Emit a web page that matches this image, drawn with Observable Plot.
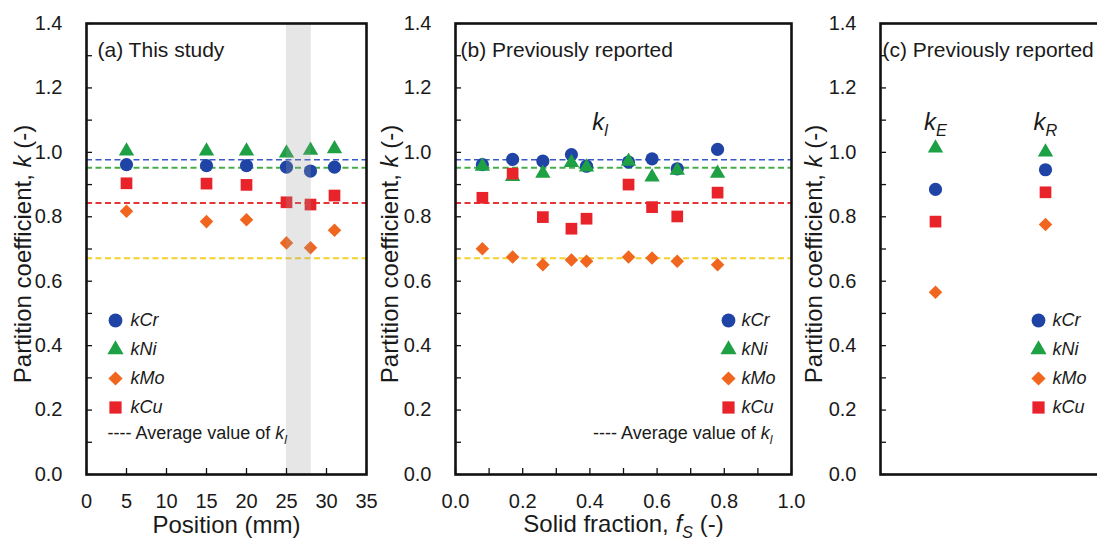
<!DOCTYPE html>
<html><head><meta charset="utf-8">
<script src="https://cdn.jsdelivr.net/npm/d3@7"></script>
<script src="https://cdn.jsdelivr.net/npm/@observablehq/plot@0.6"></script>
<style>
html,body{margin:0;padding:0;background:#fff;overflow:hidden;}
#wrap{position:relative;width:1097px;height:541px;overflow:hidden;}
#wrap svg{position:absolute;top:0;overflow:visible;}
</style></head><body><div id="wrap"></div>
<script>
// ---------------- data ----------------
const elements = ["kCr", "kNi", "kMo", "kCu"];

// (a) This study
const positionA = [5, 15, 20, 25, 28, 31];
const kCrA = [0.962, 0.959, 0.959, 0.954, 0.942, 0.954];
const kNiA = [1.004, 1.004, 1.004, 0.998, 1.006, 1.011];
const kMoA = [0.817, 0.785, 0.791, 0.719, 0.704, 0.758];
const kCuA = [0.904, 0.903, 0.899, 0.845, 0.838, 0.866];
const shadedPosition = [25, 28.1];

// (b) Previously reported, k_l vs solid fraction
const solidFractionB = [0.08, 0.17, 0.26, 0.345, 0.39, 0.515, 0.585, 0.66, 0.78];
const kCrB = [0.962, 0.978, 0.973, 0.993, 0.957, 0.970, 0.980, 0.949, 1.009];
const kNiB = [0.957, 0.925, 0.935, 0.968, 0.954, 0.972, 0.923, 0.944, 0.935];
const kMoB = [0.701, 0.675, 0.651, 0.666, 0.662, 0.675, 0.672, 0.662, 0.651];
const kCuB = [0.859, 0.934, 0.799, 0.763, 0.794, 0.900, 0.830, 0.801, 0.875];

// (c) Previously reported, k_E and k_R
const methodsC = ["kE", "kR"];
const methodLabelsC = ["|i:k||s:E|", "|i:k||s:R|"];
const kCrC = [0.885, 0.946];
const kNiC = [1.013, 1.001];
const kMoC = [0.566, 0.776];
const kCuC = [0.785, 0.876];

// average value of k_l (dashed lines)
const averageElements = ["kCr", "kNi", "kCu", "kMo"];
const averageValues = [0.977, 0.952, 0.843, 0.671];

// ticks
const yTicks = [0, 0.2, 0.4, 0.6, 0.8, 1.0, 1.2, 1.4];
const yMinorTicks = [0, 0.1, 0.2, 0.3, 0.4, 0.5, 0.6, 0.7, 0.8, 0.9, 1.0, 1.1, 1.2, 1.3, 1.4];
const xTicksA = [0, 5, 10, 15, 20, 25, 30, 35];
const xTicksB = [0, 0.2, 0.4, 0.6, 0.8, 1.0];
const xMinorTicksB = [0, 0.1, 0.2, 0.3, 0.4, 0.5, 0.6, 0.7, 0.8, 0.9, 1.0];

// texts
const titleA = "(a) This study";
const titleB = "(b) Previously reported";
const titleC = "(c) Previously reported";
const yTitle = "Partition coefficient, |i:k| (-)";
const xTitleA = "Position (mm)";
const xTitleB = "Solid fraction, |i:f||s:S| (-)";
const klLabel = "|i:k||s:l|";
const averageLegend = "---- Average value of |i:k||s:l|";

// ---------------- styles ----------------
const FONT = "'Liberation Sans', Arial, Helvetica, sans-serif";
const TEXT = "#1a1a1a";
const markerStyle = {
  kCr: {symbol: "circle", fill: "#1f44a6", r: 6.6},
  kNi: {symbol: "triangle", fill: "#1ea045", r: 5.7},
  kMo: {symbol: "diamond2", fill: "#f0661f", r: 6.1},
  kCu: {symbol: "square", fill: "#e8232a", r: 6.6}
};
const lineStyle = {
  kCr: {stroke: "#3a57c8", strokeWidth: 1.6},
  kNi: {stroke: "#45ae48", strokeWidth: 2},
  kCu: {stroke: "#e63535", strokeWidth: 2},
  kMo: {stroke: "#f3d02a", strokeWidth: 2}
};

// ---------------- tables ----------------
function table(xs, series) {
  const out = [];
  elements.forEach((e, j) => xs.forEach((x, i) => out.push({element: e, x, k: series[j][i]})));
  return out;
}
const tableA = table(positionA, [kCrA, kNiA, kMoA, kCuA]);
const tableB = table(solidFractionB, [kCrB, kNiB, kMoB, kCuB]);
const tableC = table(methodsC, [kCrC, kNiC, kMoC, kCuC]);
const averages = averageElements.map((e, i) => ({element: e, value: averageValues[i]}));

// ---------------- shared marks ----------------
function seriesDots(tab) {
  return elements.map(e => Plot.dot(tab.filter(d => d.element === e), {
    x: "x", y: "k", symbol: markerStyle[e].symbol, r: markerStyle[e].r, fill: markerStyle[e].fill
  }));
}
function averageLines() {
  return averages.map(a => Plot.ruleY([a], {y: "value", stroke: lineStyle[a.element].stroke,
    strokeWidth: lineStyle[a.element].strokeWidth, strokeDasharray: "6,3.5"}));
}
function yAxes() {
  return [
    Plot.axisY({ticks: yMinorTicks, tickSize: 6, dx: 6, tickFormat: () => "", label: null, stroke: "#111", strokeWidth: 1.3}),
    Plot.axisY({ticks: yTicks, tickSize: 0, tickPadding: 24, tickFormat: d3.format(".1f"), label: null,
      fontSize: 20, fill: TEXT})
  ];
}
function legend(anchor, markerDx, textDx) {
  const marks = [];
  elements.forEach((e, i) => {
    const dy = -154 + 29 * i;
    marks.push(Plot.dot([e], {frameAnchor: anchor, dx: markerDx, dy, symbol: markerStyle[e].symbol,
      r: markerStyle[e].r + 0.3, fill: markerStyle[e].fill}));
    marks.push(Plot.text([e], {text: d => d, frameAnchor: anchor, dx: textDx, dy, textAnchor: "start",
      lineAnchor: "middle", fontSize: 18, fontStyle: "italic", fill: TEXT}));
  });
  return marks;
}
function yTitleMark(dx) {
  return Plot.text([yTitle], {text: d => d, frameAnchor: "left", dx, dy: 5, rotate: -90,
    textAnchor: "middle", lineAnchor: "middle", fontSize: 24, fill: TEXT});
}
function panelTitle(t, dx) {
  return Plot.text([t], {text: d => d, frameAnchor: "top-left", dx, dy: 27, textAnchor: "start",
    lineAnchor: "middle", fontSize: 21, fill: TEXT});
}
const frame = () => Plot.frame({stroke: "#111", strokeWidth: 2.6});

// ---------------- panel (a) ----------------
const plotA = Plot.plot({
  width: 370, height: 541, marginLeft: 86, marginRight: 4, marginTop: 23, marginBottom: 67,
  style: {fontFamily: FONT, background: "transparent"},
  x: {domain: [0, 35]}, y: {domain: [0, 1.4]},
  marks: [
    ...averageLines(),
    ...seriesDots(tableA),
    Plot.rect([shadedPosition], {x1: d => d[0], x2: d => d[1], fill: "#9a9a9a", fillOpacity: 0.25}),
    ...yAxes(),
    Plot.axisX({ticks: xTicksA, tickSize: 6, dy: -6, tickFormat: () => "", label: null, stroke: "#111", strokeWidth: 1.3}),
    Plot.axisX({ticks: xTicksA, tickSize: 0, tickPadding: 19, label: null, fontSize: 20, fill: TEXT}),
    Plot.text([xTitleA], {text: d => d, frameAnchor: "bottom", dy: 51, lineAnchor: "middle", fontSize: 24, fill: TEXT}),
    yTitleMark(-63),
    panelTitle(titleA, 11),
    ...legend("bottom-left", 29, 44),
    Plot.text([averageLegend], {text: d => d, frameAnchor: "bottom-left", dx: 21, dy: -41, textAnchor: "start",
      lineAnchor: "middle", fontSize: 18, fill: TEXT}),
    frame()
  ]
});

// ---------------- panel (b) ----------------
const fsCenter = (d3.min(solidFractionB) + d3.max(solidFractionB)) / 2;
const plotB = Plot.plot({
  width: 425, height: 541, marginLeft: 85, marginRight: 4, marginTop: 23, marginBottom: 67,
  style: {fontFamily: FONT, background: "transparent"},
  x: {domain: [0, 1]}, y: {domain: [0, 1.4]},
  marks: [
    ...averageLines(),
    ...seriesDots(tableB),
    ...yAxes(),
    Plot.axisX({ticks: xMinorTicksB, tickSize: 6, dy: -6, tickFormat: () => "", label: null, stroke: "#111", strokeWidth: 1.3}),
    Plot.axisX({ticks: xTicksB, tickSize: 0, tickPadding: 19, tickFormat: d3.format(".1f"), label: null, fontSize: 20, fill: TEXT}),
    Plot.text([xTitleB], {text: d => d, frameAnchor: "bottom", dy: 50, lineAnchor: "middle", fontSize: 24, fill: TEXT}),
    yTitleMark(-65),
    panelTitle(titleB, 5),
    Plot.text([klLabel], {text: d => d, x: () => fsCenter, frameAnchor: "top", dy: 99, lineAnchor: "middle", fontSize: 24, fill: TEXT}),
    ...legend("bottom-right", -63, -50),
    Plot.text([averageLegend], {text: d => d, frameAnchor: "bottom-right", dx: -19, dy: -41, textAnchor: "end",
      lineAnchor: "middle", fontSize: 18, fill: TEXT}),
    frame()
  ]
});

// ---------------- panel (c) ----------------
const plotC = Plot.plot({
  width: 310, height: 541, marginLeft: 85, marginRight: 5, marginTop: 23, marginBottom: 67,
  style: {fontFamily: FONT, background: "transparent"},
  x: {type: "point", domain: methodsC, padding: 0.5, axis: null}, y: {domain: [0, 1.4]},
  marks: [
    ...seriesDots(tableC),
    ...yAxes(),
    yTitleMark(-66),
    panelTitle(titleC, 2),
    Plot.text(methodsC, {x: d => d, text: (d, i) => methodLabelsC[i], frameAnchor: "top", dy: 99,
      lineAnchor: "middle", fontSize: 24, fill: TEXT}),
    ...legend("bottom-left", 158, 172),
    frame()
  ]
});

// ---------------- layout ----------------
const wrap = document.getElementById("wrap");
[[plotA, 0], [plotB, 370], [plotC, 795]].forEach(([p, left]) => {
  p.style.left = left + "px";
  wrap.appendChild(p);
});

// rich text: "|i:x|" italic, "|s:x|" italic subscript
function richify(svg) {
  d3.select(svg).selectAll("text").each(function() {
    const s = this.textContent;
    if (!s.includes("|")) return;
    const fs = parseFloat(getComputedStyle(this).fontSize) || 20;
    const parts = s.split("|").filter(p => p.length);
    this.textContent = "";
    let shifted = 0;
    for (const p of parts) {
      let txt = p, italic = false, sub = false;
      if (p.startsWith("i:")) { italic = true; txt = p.slice(2); }
      else if (p.startsWith("s:")) { italic = true; sub = true; txt = p.slice(2); }
      const t = d3.select(this).append("tspan").text(txt);
      if (italic) t.attr("font-style", "italic");
      const target = sub ? fs * 0.25 : 0;
      if (target !== shifted) { t.attr("dy", target - shifted); shifted = target; }
      if (sub) t.attr("font-size", fs * 0.68);
    }
  });
}
[plotA, plotB, plotC].forEach(richify);
</script></body></html>
